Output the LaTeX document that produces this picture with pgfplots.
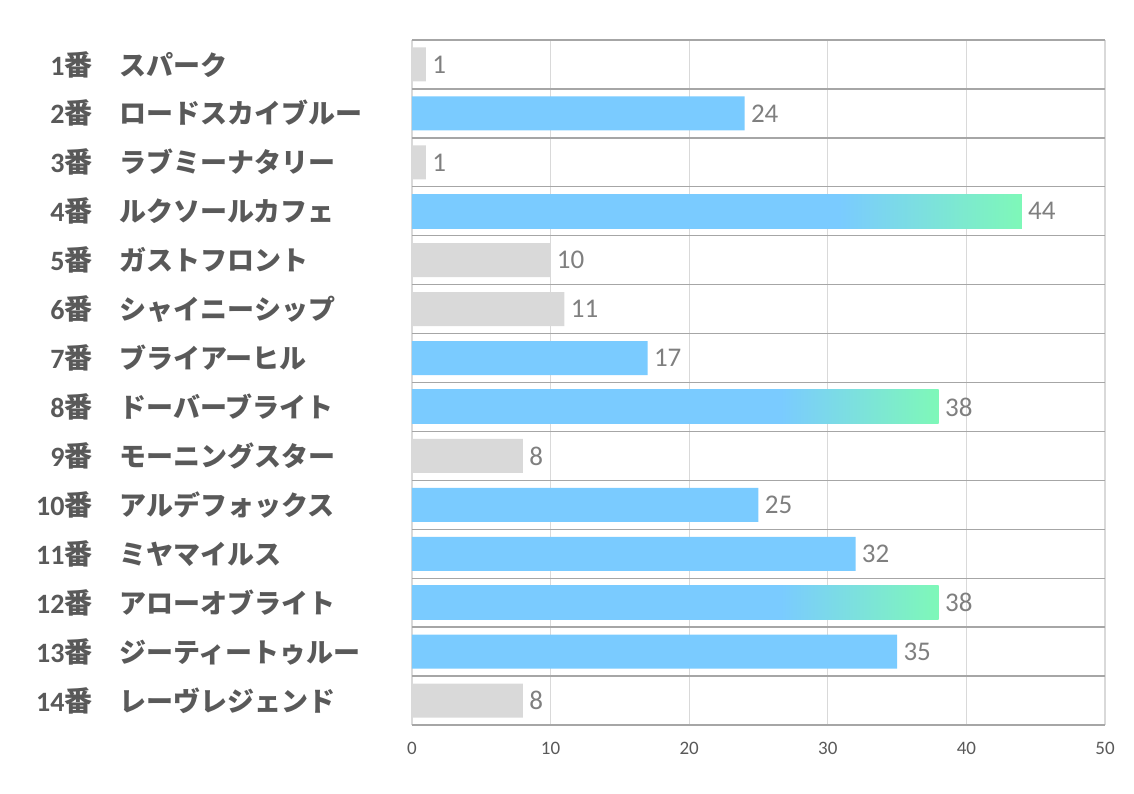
\documentclass[border=0pt]{standalone}
\usepackage{fontspec}
\setmainfont{Carlito}
\newfontfamily\cjk{Noto Sans CJK JP}
\usepackage{pgfplots}
\usepackage{pgfplotstable}
\pgfplotsset{compat=1.18}

\definecolor{barblue}{HTML}{7ACBFF}
\definecolor{bargreen}{HTML}{7EF8B8}
\definecolor{bargray}{HTML}{D9D9D9}
\definecolor{labgray}{HTML}{595959}
\definecolor{valgray}{HTML}{7F7F7F}
\definecolor{sepgray}{HTML}{A6A6A6}

% blue up to ~70% of the bar, then fading to green
\pgfdeclarehorizontalshading{bargrad}{100bp}{color(0bp)=(barblue); color(60bp)=(barblue); color(75bp)=(bargreen); color(100bp)=(bargreen)}

\newcommand\lab[2]{\makebox[40pt][r]{\fontsize{14}{14}\selectfont\bfseries #1{\cjk 番}}\hspace{13.5pt}\makebox[146pt][l]{\fontsize{13.5}{14}\selectfont\cjk\bfseries #2}}

% row, score
\pgfplotstableread{
y x
1 1
3 1
5 10
6 11
9 8
14 8
}\graydata
\pgfplotstableread{
y x
2 24
7 17
10 25
11 32
13 35
}\bluedata
% gradient bars: one table each, so each bar gets its own shading
\pgfplotstableread{
y x
4 44
}\topa
\pgfplotstableread{
y x
8 38
}\topb
\pgfplotstableread{
y x
12 38
}\topc

\begin{document}
\begin{tikzpicture}
\path[use as bounding box] (-206pt,-34pt) rectangle (361pt,362.5pt);
\begin{axis}[
  at={(0,0)}, anchor=south west,
  scale only axis, width=346.5pt, height=342.5pt,
  xbar, bar shift=0pt, bar width=17pt,
  xmin=0, xmax=50, ymin=0.5, ymax=14.5, y dir=reverse,
  xtick={0,10,...,50}, ytick={1,...,14},
  yticklabels={\lab{1}{スパーク},\lab{2}{ロードスカイブルー},\lab{3}{ラブミーナタリー},
    \lab{4}{ルクソールカフェ},\lab{5}{ガストフロント},\lab{6}{シャイニーシップ},
    \lab{7}{ブライアーヒル},\lab{8}{ドーバーブライト},\lab{9}{モーニングスター},
    \lab{10}{アルデフォックス},\lab{11}{ミヤマイルス},\lab{12}{アローオブライト},
    \lab{13}{ジーティートゥルー},\lab{14}{レーヴレジェンド}},
  minor ytick={0.5,1.5,...,14.5},
  xmajorgrids, yminorgrids,
  major grid style={draw=bargray, line width=0.6pt},
  minor grid style={draw=sepgray, line width=0.7pt},
  axis line style={draw=none},
  major tick length=0pt, minor tick length=0pt,
  tick style={draw=none},
  xticklabel style={font=\fontsize{9.5}{10}\selectfont, text=labgray, yshift=-5pt},
  yticklabel style={anchor=east, inner sep=0pt, text=labgray},
  nodes near coords,
  every node near coord/.append style={font=\fontsize{13.5}{14}\selectfont, text=valgray, inner sep=3pt},
  /pgf/number format/assume math mode=true,
]
\addplot[fill=bargray, draw=none] table[x=x, y=y] {\graydata};
\addplot[fill=barblue, draw=none] table[x=x, y=y] {\bluedata};
\addplot[shading=bargrad, draw=none] table[x=x, y=y] {\topa};
\addplot[shading=bargrad, draw=none] table[x=x, y=y] {\topb};
\addplot[shading=bargrad, draw=none] table[x=x, y=y] {\topc};
\end{axis}
\end{tikzpicture}
\end{document}
